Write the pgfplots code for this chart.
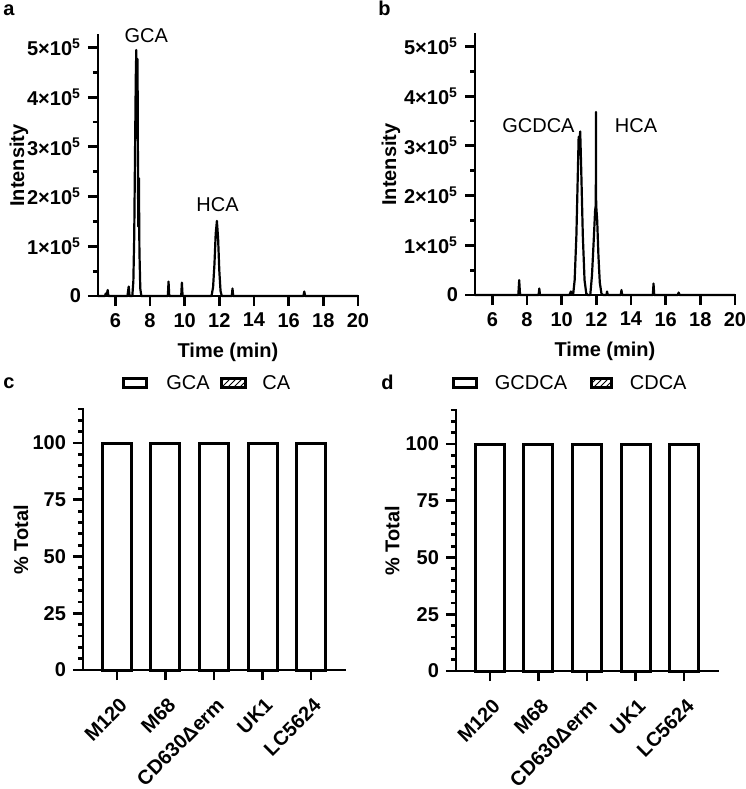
\documentclass[border=0pt]{standalone}
\usepackage{pgfplots}
\pgfplotsset{compat=1.18}
\usepackage{fontspec}
\setmainfont{Liberation Sans}
\usetikzlibrary{patterns}

\newcommand{\fs}{\fontsize{10}{12}\selectfont}
\pgfplotsset{
  prism/.style={
    scale only axis,
    axis lines*=left,
    axis line style={line width=1.4pt, line cap=rect},
    tick align=outside,
    major tick length=5pt,
    minor tick length=2.5pt,
    every tick/.append style={black, line width=1.4pt},
    tick label style={font=\fs\bfseries},
    label style={font=\fs\bfseries},
    /pgf/number format/assume math mode=true,
    clip=false,
  },
  chrom/.style={
    prism, width=130pt, height=130.5pt,
    xmin=5, xmax=20, ymin=0, ymax=5.25,
    xtick={6,8,...,20},
    ytick={0,1,2,3,4,5},
    yticklabels={0, 1×10\textsuperscript{5}, 2×10\textsuperscript{5}, 3×10\textsuperscript{5}, 4×10\textsuperscript{5}, 5×10\textsuperscript{5}},
    minor ytick={0.5,1.5,2.5,3.5,4.5},
    xlabel={Time (min)}, ylabel={Intensity},
    xlabel style={at={(axis description cs:0.5,-0.2165)}, anchor=center},
  },
  pct/.style={
    prism, width=131pt, height=130.5pt,
    xmin=-0.7, xmax=4.7, ymin=0, ymax=115,
    ybar, bar width=14.5pt,
    xtick={0,1,2,3,4},
    xticklabels={M120, M68, CD630Δerm, UK1, LC5624},
    xticklabel style={rotate=45, anchor=north east, xshift=-2pt, yshift=-3pt},
    ytick={0,25,50,75,100},
    minor ytick={5,10,15,20,30,35,40,45,55,60,65,70,80,85,90,95,105,110,115},
    ylabel={\% Total},
  },
}

\begin{document}
\begin{tikzpicture}
\useasboundingbox (0pt,0pt) rectangle (373pt,-394.5pt);

% ---------- panel a ----------
\begin{axis}[chrom, at={(49pt,-148pt)}, anchor=south west,
  ylabel style={at={(axis description cs:-0.304,0.5)}, anchor=center}]
\addplot[black, line width=1.1pt, line join=round] coordinates {
(5.00,0) (5.40,0) (5.45,0.05) (5.50,0.02) (5.56,0.12) (5.60,0)
(6.70,0) (6.77,0.19) (6.82,0)
(6.98,0) (7.04,0.3) (7.09,1.2) (7.14,3.0) (7.18,4.4) (7.21,4.95) (7.24,3.4)
(7.28,4.77) (7.32,1.4) (7.36,2.37) (7.39,0.9) (7.44,0.15) (7.50,0)
(9.03,0) (9.07,0.29) (9.11,0)
(9.80,0) (9.84,0.27) (9.88,0)
(11.55,0) (11.64,0.18) (11.72,0.65) (11.79,1.25) (11.86,1.51) (11.93,1.15)
(12.00,0.5) (12.07,0.1) (12.14,0)
(12.72,0) (12.76,0.15) (12.80,0)
(16.85,0) (16.90,0.09) (16.95,0) (20.00,0)
};
\node[font=\fs] at (axis cs:7.79,5.24) {GCA};
\node[font=\fs] at (axis cs:11.9,1.83) {HCA};
\end{axis}

% ---------- panel b ----------
\begin{axis}[chrom, at={(237.5pt,-147.5pt)}, anchor=south west,
  ylabel style={at={(axis description cs:-0.323,0.5)}, anchor=center}]
\addplot[black, line width=1.1pt, line join=round] coordinates {
(5.00,0) (7.50,0) (7.55,0.30) (7.60,0)
(8.67,0) (8.71,0.13) (8.75,0)
(10.45,0) (10.53,0.07) (10.60,0.02)
(10.66,0) (10.75,0.3) (10.85,1.2) (10.93,2.4) (10.98,3.18) (11.02,3.1)
(11.07,3.29) (11.13,2.5) (11.22,1.2) (11.32,0.3) (11.42,0.03) (11.50,0)
(11.65,0) (11.75,0.4) (11.85,1.1) (11.93,1.7) (11.97,1.81) (11.98,3.68)
(11.99,1.81) (12.05,1.5) (12.12,0.8) (12.20,0.25) (12.30,0.02) (12.40,0)
(12.58,0) (12.62,0.07) (12.66,0)
(13.41,0) (13.45,0.10) (13.49,0)
(15.26,0) (15.30,0.23) (15.34,0)
(16.70,0) (16.75,0.05) (16.80,0) (20.00,0)
};
\node[font=\fs] at (axis cs:8.66,3.41) {GCDCA};
\node[font=\fs] at (axis cs:14.29,3.41) {HCA};
\end{axis}

% ---------- panel c ----------
\begin{axis}[pct, at={(41.5pt,-335pt)}, anchor=south west,
  ylabel style={at={(axis description cs:-0.237,0.5)}, anchor=center}]
\addplot[fill=white, draw=black, line width=1.5pt] coordinates {
(0,100) (1,100) (2,100) (3,100) (4,100)
};
\end{axis}

% ---------- panel d ----------
\begin{axis}[pct, at={(228pt,-335.5pt)}, anchor=south west,
  ylabel style={at={(axis description cs:-0.243,0.5)}, anchor=center}]
\addplot[fill=white, draw=black, line width=1.5pt] coordinates {
(0,100) (1,100) (2,100) (3,100) (4,100)
};
\end{axis}

\begin{scope}[x=0.5pt,y=-0.5pt]
% ---------- legends ----------
\draw[line width=1.5pt] (123.5,378.5) rectangle (146.5,387.5);
\node[anchor=west, inner sep=0pt, font=\fs] at (166,383) {GCA};
\draw[line width=1.5pt, pattern=north east lines] (221.5,378.5) rectangle (245.5,387.5);
\node[anchor=west, inner sep=0pt, font=\fs] at (262,383) {CA};

\draw[line width=1.5pt] (453,378.5) rectangle (476.5,387.5);
\node[anchor=west, inner sep=0pt, font=\fs] at (494.5,383) {GCDCA};
\draw[line width=1.5pt, pattern=north east lines] (591,378.5) rectangle (611.5,387.5);
\node[anchor=west, inner sep=0pt, font=\fs] at (629.5,383) {CDCA};

% ---------- panel letters ----------
\node[anchor=base west, inner sep=0pt, font=\fs\bfseries] at (3,15) {a};
\node[anchor=base west, inner sep=0pt, font=\fs\bfseries] at (378,15) {b};
\node[anchor=base west, inner sep=0pt, font=\fs\bfseries] at (3,388) {c};
\node[anchor=base west, inner sep=0pt, font=\fs\bfseries] at (381,389) {d};
\end{scope}
\end{tikzpicture}
\end{document}
